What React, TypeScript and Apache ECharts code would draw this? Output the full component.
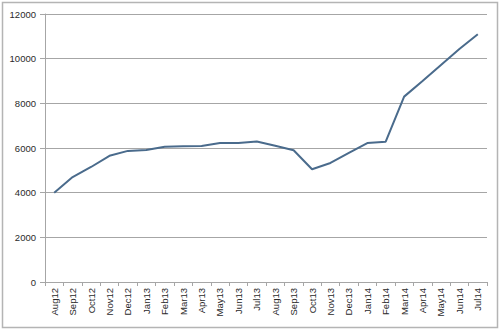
import React, { useEffect, useRef } from "react";
import * as echarts from "echarts";

const categories = [
  "Aug12", "Sep12", "Oct12", "Nov12", "Dec12", "Jan13", "Feb13", "Mar13",
  "Apr13", "May13", "Jun13", "Jul13", "Aug13", "Sep13", "Oct13", "Nov13",
  "Dec13", "Jan14", "Feb14", "Mar14", "Apr14", "May14", "Jun14", "Jul14",
];
const values = [
  4000, 4700, 5150, 5650, 5870, 5910, 6060, 6080,
  6090, 6220, 6220, 6290, 6100, 5900, 5050, 5330,
  5780, 6220, 6280, 8300, 9000, 9720, 10430, 11090,
];
const yMin = 0;
const yMax = 12000;
const yStep = 2000;

export default function App() {
  const ref = useRef<HTMLDivElement>(null);
  useEffect(() => {
    document.body.style.margin = "0";
    const chart = echarts.init(ref.current!, null, { renderer: "svg" });
    chart.setOption({
      animation: false,
      backgroundColor: "#ffffff",
      textStyle: { fontFamily: "Liberation Sans" },
      graphic: [
        {
          type: "rect",
          shape: { x: 2.5, y: 2.5, width: 495, height: 325 },
          style: { fill: "none", stroke: "#b4b4b4", lineWidth: 1.5 },
          silent: true,
        },
      ],
      grid: { left: 45, right: 13, top: 14, bottom: 48 },
      xAxis: {
        type: "category",
        data: categories,
        boundaryGap: true,
        axisLine: { show: true, lineStyle: { color: "#a6a6a6", width: 1 } },
        axisTick: { show: true, interval: 0, length: 4, lineStyle: { color: "#a6a6a6" } },
        axisLabel: {
          interval: 0,
          rotate: 90,
          margin: 6,
          fontSize: 9.5,
          color: "#2a2a2a",
        },
        splitLine: { show: false },
      },
      yAxis: {
        type: "value",
        min: yMin,
        max: yMax,
        interval: yStep,
        axisLine: { show: true, lineStyle: { color: "#a6a6a6", width: 1 } },
        axisTick: { show: true, length: 5, lineStyle: { color: "#a6a6a6" } },
        axisLabel: {
          margin: 9,
          fontSize: 9.5,
          color: "#2a2a2a",
          formatter: (v: number) => String(v),
        },
        splitLine: { show: true, lineStyle: { color: "#a6a6a6", width: 1 } },
      },
      series: [
        {
          type: "line",
          data: values,
          symbol: "none",
          lineStyle: { color: "#4a6b8c", width: 2 },
        },
      ],
    });
    return () => chart.dispose();
  }, []);
  return <div ref={ref} style={{ width: 500, height: 330 }} />;
}
